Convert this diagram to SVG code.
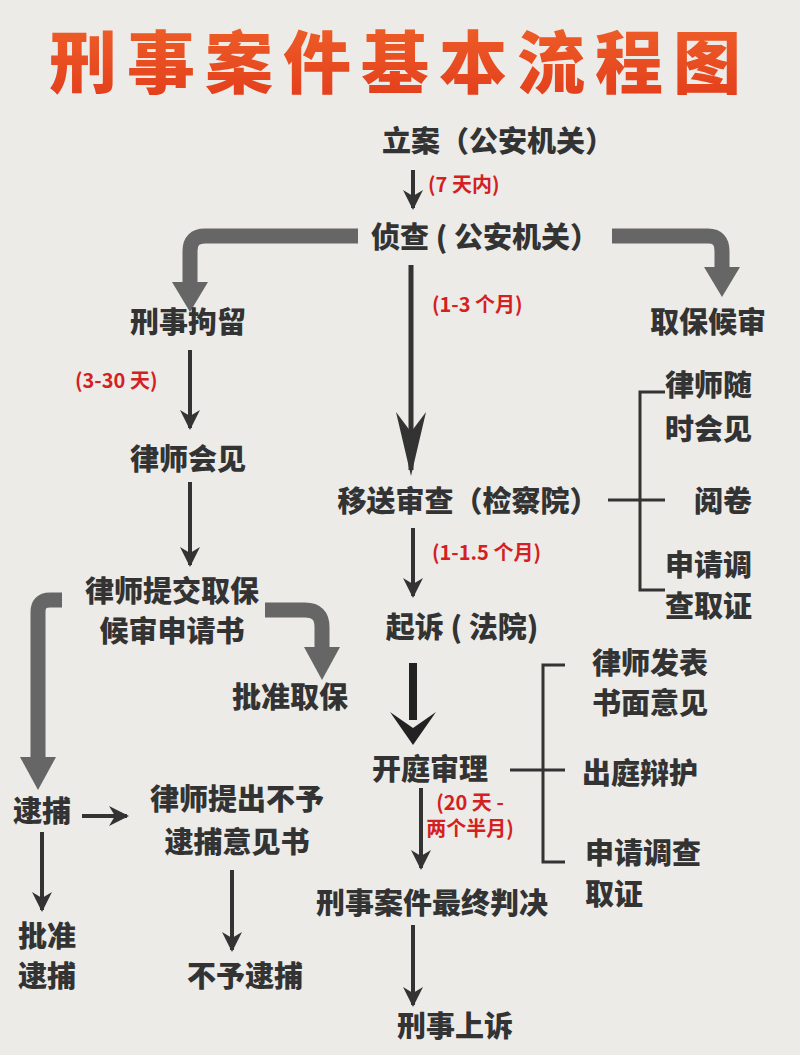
<svg xmlns="http://www.w3.org/2000/svg" width="800" height="1055" viewBox="0 0 800 1055">
<defs>
<linearGradient id="tg" x1="0" y1="0" x2="0" y2="1"><stop offset="0" stop-color="#f0642a"/><stop offset="1" stop-color="#e23a1a"/></linearGradient>
<marker id="ah" viewBox="0 0 10 10" refX="9" refY="5" markerWidth="5" markerHeight="5" orient="auto"><path d="M0,0 L10,5 L0,10 L3,5 Z" fill="#333"/></marker>
<style>
text{font-family:"Noto Sans CJK SC","Noto Sans",sans-serif;font-weight:900;fill:#333}
.n{font-size:29px}
.r{font-size:20px;fill:#d42020;font-weight:bold}
.t{stroke:#333;stroke-width:4;fill:none;marker-end:url(#ah)}
.g{stroke:#666;stroke-width:15;fill:none}
.gh{fill:#666}
.b{stroke:#333;stroke-width:3;fill:none}
</style>
</defs>
<rect width="800" height="1055" fill="#ecebe8"/>
<text x="400" y="88" text-anchor="middle" font-size="68" style="fill:url(#tg);font-weight:900;letter-spacing:10px">刑事案件基本流程图</text>
<g id="connectors">
<line class="t" x1="413" y1="170" x2="413" y2="208"/>
<path class="g" d="M358,236 H205 Q190,236 190,251 V285"/><path class="gh" d="M172,282 H208 L190,312 Z"/>
<path class="g" d="M612,236 H708 Q722,236 722,251 V270"/><path class="gh" d="M704,267 H740 L722,297 Z"/>
<line x1="411" y1="265" x2="411" y2="470" stroke="#333" stroke-width="5"/><path d="M396,412 L411,432 L426,412 L411,476 Z" fill="#333"/>
<line class="t" x1="190" y1="350" x2="190" y2="428"/>
<line class="t" x1="190" y1="482" x2="190" y2="565"/>
<line class="b" x1="608" y1="500" x2="665" y2="500"/>
<path class="b" d="M665,392 H640 V590 H665"/>
<line class="t" x1="413" y1="528" x2="413" y2="596"/>
<line x1="413" y1="663" x2="413" y2="720" stroke="#222" stroke-width="8"/><path d="M390,712 L413,728 L436,712 L413,745 Z" fill="#222"/>
<line class="b" x1="510" y1="770" x2="565" y2="770"/>
<path class="b" d="M565,665 H543 V862 H565"/>
<line class="t" x1="421" y1="788" x2="421" y2="868"/>
<line class="t" x1="413" y1="925" x2="413" y2="1005"/>
<path class="g" d="M62,600 H50 Q38,600 38,612 V760"/><path class="gh" d="M20,757 H56 L38,790 Z"/>
<path class="g" d="M265,610 H305 Q322,610 322,627 V650"/><path class="gh" d="M304,647 H340 L322,680 Z"/>
<line class="t" x1="82" y1="816" x2="127" y2="816"/>
<line class="t" x1="42" y1="832" x2="42" y2="910"/>
<line class="t" x1="232" y1="870" x2="232" y2="950"/>
</g>
<g id="n1"><text class="n" x="498" y="152" text-anchor="middle">立案（公安机关）</text></g>
<g id="l1"><text class="r" x="428" y="192">(7 天内)</text></g>
<g id="n2"><text class="n" x="485" y="248" text-anchor="middle">侦查 ( 公安机关）</text></g>
<g id="n3"><text class="n" x="188" y="333" text-anchor="middle">刑事拘留</text></g>
<g id="n4"><text class="n" x="708" y="333" text-anchor="middle">取保候审</text></g>
<g id="l2"><text class="r" x="432" y="312">(1-3 个月)</text></g>
<g id="l3"><text class="r" x="75" y="388">(3-30 天)</text></g>
<g id="n5"><text class="n" x="188" y="470" text-anchor="middle">律师会见</text></g>
<g id="n6"><text class="n" x="468" y="512" text-anchor="middle">移送审查（检察院）</text></g>
<g id="n7"><text class="n" x="665" y="396">律师随</text><text class="n" x="665" y="440">时会见</text></g>
<g id="n8"><text class="n" x="723" y="512" text-anchor="middle">阅卷</text></g>
<g id="n9"><text class="n" x="665" y="576">申请调</text><text class="n" x="665" y="617">查取证</text></g>
<g id="l4"><text class="r" x="432" y="560">(1-1.5 个月)</text></g>
<g id="n10"><text class="n" x="462" y="638" text-anchor="middle">起诉 ( 法院)</text></g>
<g id="n11"><text class="n" x="172" y="602" text-anchor="middle">律师提交取保</text><text class="n" x="172" y="642" text-anchor="middle">候审申请书</text></g>
<g id="n12"><text class="n" x="290" y="708" text-anchor="middle">批准取保</text></g>
<g id="n13"><text class="n" x="650" y="674" text-anchor="middle">律师发表</text><text class="n" x="650" y="714" text-anchor="middle">书面意见</text></g>
<g id="n14"><text class="n" x="430" y="780" text-anchor="middle">开庭审理</text></g>
<g id="n15"><text class="n" x="640" y="784" text-anchor="middle">出庭辩护</text></g>
<g id="l5"><text class="r" x="470" y="810" text-anchor="middle" font-size="16">(20 天 -</text><text class="r" x="470" y="836" text-anchor="middle" font-size="16">两个半月)</text></g>
<g id="n16"><text class="n" x="585" y="864">申请调查</text><text class="n" x="585" y="905">取证</text></g>
<g id="n17"><text class="n" x="13" y="822">逮捕</text></g>
<g id="n18"><text class="n" x="237" y="810" text-anchor="middle">律师提出不予</text><text class="n" x="237" y="853" text-anchor="middle">逮捕意见书</text></g>
<g id="n19"><text class="n" x="432" y="914" text-anchor="middle">刑事案件最终判决</text></g>
<g id="n20"><text class="n" x="18" y="947">批准</text><text class="n" x="18" y="987">逮捕</text></g>
<g id="n21"><text class="n" x="245" y="987" text-anchor="middle">不予逮捕</text></g>
<g id="n22"><text class="n" x="455" y="1037" text-anchor="middle">刑事上诉</text></g>
</svg>
